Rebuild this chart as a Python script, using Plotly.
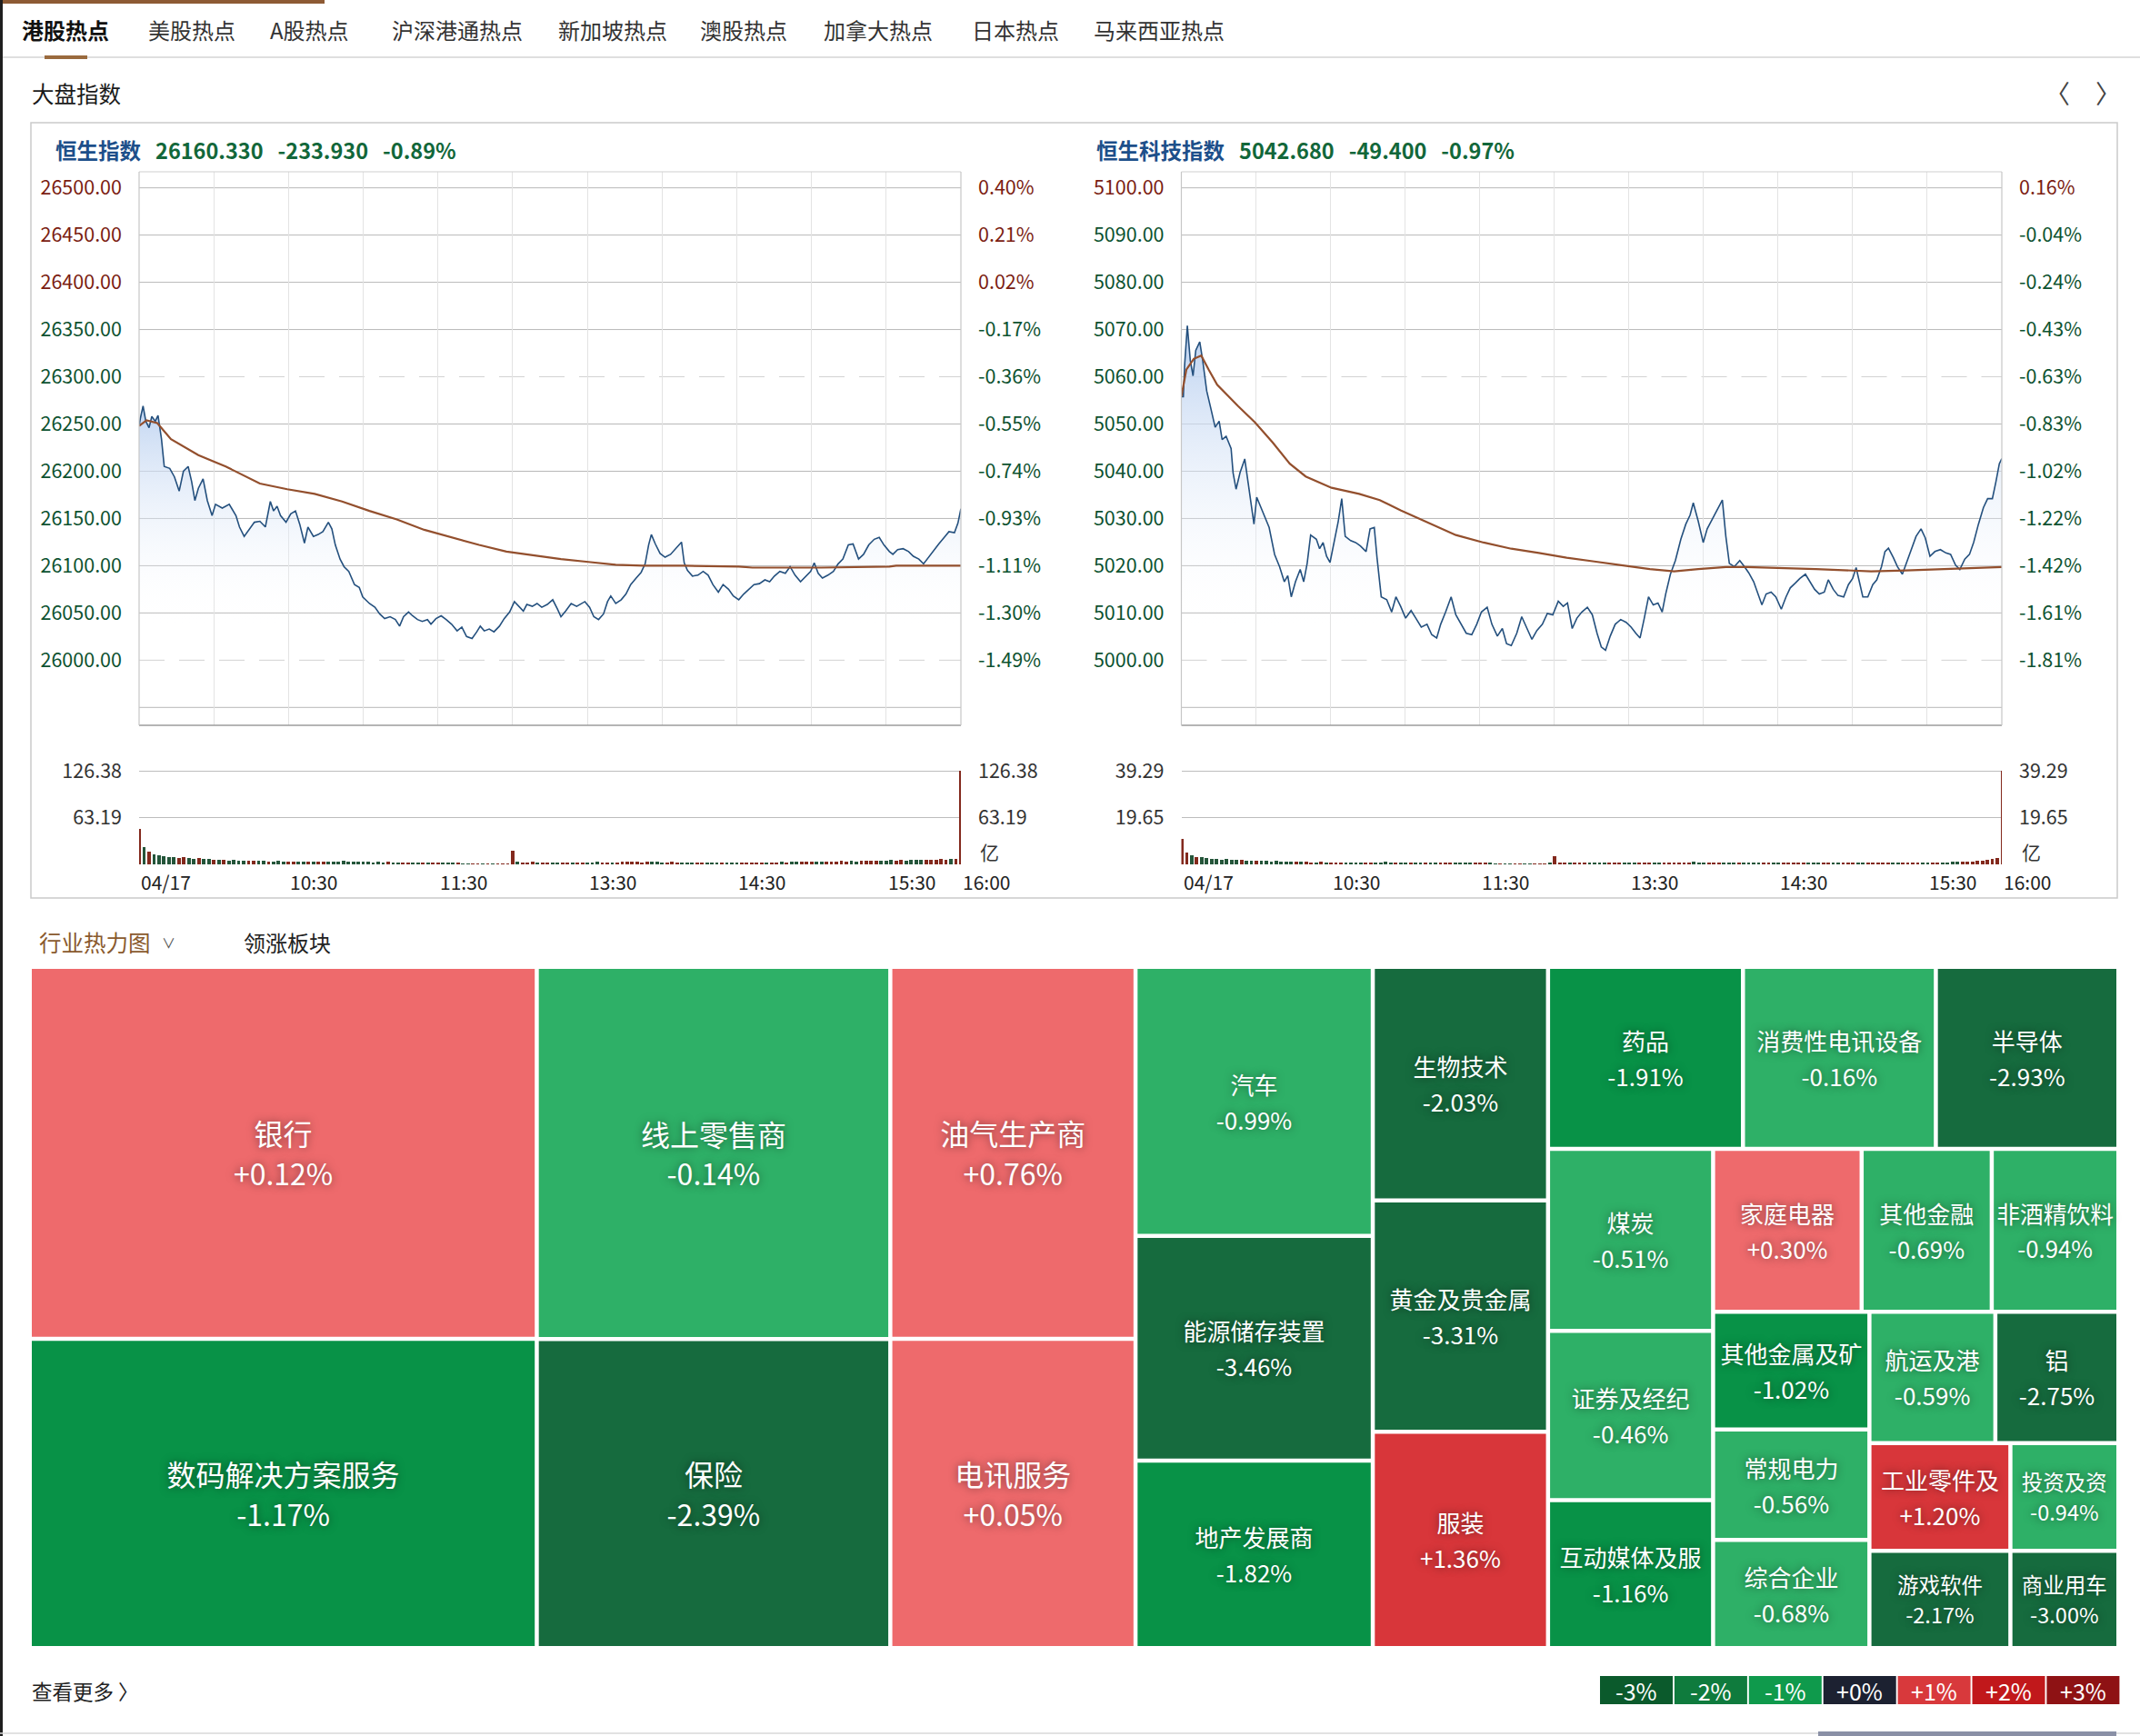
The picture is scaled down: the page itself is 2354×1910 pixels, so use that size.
import numpy as np
import plotly.graph_objects as go

W, H = 2354, 1910
FONT = "Noto Sans CJK SC, Noto Sans, sans-serif"


def X(px):
    return px / W


def Y(py):
    return 1 - py / H


# ------------------------------------------------------------------ data
tabs = ["港股热点", "美股热点", "A股热点", "沪深港通热点", "新加坡热点",
        "澳股热点", "加拿大热点", "日本热点", "马来西亚热点"]

hsi_quote = ("恒生指数", 26160.330, -233.930, -0.89)
tech_quote = ("恒生科技指数", 5042.680, -49.400, -0.97)

time_labels = ["04/17", "10:30", "11:30", "13:30", "14:30", "15:30", "16:00"]
time_label_min = [0, 60, 120, 180, 240, 300, 330]   # minutes after 09:30 (lunch removed)

hsi_levels = [26500, 26450, 26400, 26350, 26300, 26250, 26200, 26150,
              26100, 26050, 26000, 25950]
tech_levels = [5100, 5090, 5080, 5070, 5060, 5050, 5040, 5030,
               5020, 5010, 5000, 4990]

# (minute, price)
hsi_price = [
    (0, 26248), (0.5, 26256), (1.6, 26269), (2.7, 26253), (4.0, 26246), (5.1, 26258),
    (6.5, 26253), (7.6, 26259), (9.0, 26234), (10.1, 26205), (12.3, 26203), (14.2, 26194),
    (16.1, 26179), (17.8, 26200), (19.7, 26205), (21.1, 26189), (22.4, 26169), (23.8, 26182),
    (25.7, 26192), (27.4, 26169), (29.3, 26153), (30.7, 26165), (33.4, 26161), (36.2, 26165),
    (38.9, 26153), (40.3, 26141), (42.2, 26131), (44.4, 26139), (46.3, 26146), (48.5, 26147),
    (50.7, 26141), (52.7, 26168), (54.0, 26158), (55.4, 26163), (56.8, 26153), (59.0, 26146),
    (60.9, 26155), (62.8, 26158), (64.5, 26144), (66.4, 26124), (67.8, 26141), (70.0, 26131),
    (71.9, 26133), (73.8, 26136), (76.0, 26146), (77.4, 26139), (78.8, 26122), (80.7, 26107),
    (82.3, 26099), (84.2, 26094), (86.5, 26080), (88.4, 26077), (89.8, 26067), (92.5, 26060),
    (94.7, 26056), (96.6, 26049), (98.6, 26044), (100.8, 26046), (102.9, 26043), (104.6, 26036),
    (106.2, 26046), (108.2, 26051), (109.8, 26047), (111.8, 26043), (113.7, 26041), (115.8, 26043),
    (117.2, 26038), (119.2, 26044), (121.3, 26047), (123.3, 26043), (125.5, 26038), (127.7, 26031),
    (129.6, 26035), (131.5, 26025), (133.7, 26023), (135.6, 26030), (137.0, 26036), (138.6, 26031),
    (140.6, 26033), (142.5, 26030), (144.7, 26036), (146.6, 26044), (148.8, 26051), (150.7, 26062),
    (152.4, 26057), (154.3, 26052), (155.7, 26059), (157.9, 26057), (159.8, 26060), (161.7, 26056),
    (163.9, 26059), (166.1, 26064), (168.0, 26054), (169.4, 26046), (171.3, 26052), (173.5, 26060),
    (175.7, 26057), (177.7, 26060), (179.0, 26062), (180.9, 26056), (182.6, 26046), (184.5, 26043),
    (186.5, 26049), (188.1, 26062), (189.4, 26068), (191.4, 26060), (193.6, 26064), (195.5, 26070),
    (197.4, 26080), (199.6, 26087), (201.6, 26093), (203.2, 26102), (204.6, 26122), (205.7, 26133),
    (207.3, 26123), (209.2, 26113), (211.2, 26109), (213.4, 26112), (215.6, 26118), (217.8, 26125),
    (218.9, 26103), (220.2, 26095), (222.2, 26089), (224.4, 26090), (226.5, 26094), (228.5, 26090),
    (230.4, 26080), (232.6, 26072), (234.5, 26080), (236.7, 26075), (238.6, 26068), (240.8, 26064),
    (242.8, 26070), (245.0, 26075), (246.9, 26080), (249.1, 26081), (251.3, 26085), (253.2, 26083),
    (255.1, 26089), (257.3, 26094), (259.5, 26092), (261.4, 26099), (263.4, 26090), (265.6, 26083),
    (267.8, 26089), (269.7, 26094), (271.1, 26103), (272.7, 26092), (274.4, 26087), (276.6, 26090),
    (278.8, 26094), (280.7, 26102), (282.6, 26107), (284.8, 26122), (286.7, 26123), (288.9, 26107),
    (290.9, 26112), (293.0, 26122), (295.2, 26128), (297.2, 26130), (299.1, 26122), (301.3, 26115),
    (302.7, 26112), (304.6, 26117), (306.8, 26118), (309.0, 26115), (310.9, 26110), (313.1, 26107),
    (315.0, 26102), (317.0, 26109), (319.2, 26117), (321.1, 26123), (323.3, 26130), (325.2, 26136),
    (327.4, 26135), (328.8, 26145), (330.0, 26160.33),
]
hsi_avg = [
    (0, 26248), (3, 26254), (7.3, 26251), (12.8, 26234), (23.8, 26217), (34.8, 26205),
    (48.5, 26187), (59.5, 26181), (70.5, 26176), (81.5, 26168), (92.5, 26158), (103.5, 26149),
    (114.5, 26138), (125.5, 26130), (136.5, 26122), (147.5, 26115), (158.4, 26111), (169.4, 26107),
    (180.4, 26104), (191.4, 26101), (202.4, 26100), (218.9, 26100), (240.8, 26099), (246.3, 26098),
    (273.8, 26098), (301.3, 26099), (304.0, 26100), (330, 26100),
]
tech_price = [
    (0, 5055.8), (0.8, 5055.8), (1.3, 5062.4), (2.4, 5070.8), (3.6, 5063.4), (4.7, 5060.2),
    (5.8, 5065.6), (7.4, 5067.4), (8.6, 5063.4), (10.2, 5057.0), (11.9, 5053.2), (13.6, 5049.3),
    (15.2, 5050.6), (16.4, 5046.7), (18.0, 5047.4), (20.0, 5044.8), (20.8, 5039.7), (22.0, 5036.2),
    (23.6, 5039.7), (25.5, 5042.6), (26.9, 5037.4), (29.2, 5028.8), (30.3, 5034.5), (32.5, 5031.7),
    (35.3, 5028.1), (37.5, 5022.4), (39.5, 5019.8), (41.4, 5016.6), (42.8, 5017.9), (44.2, 5013.4),
    (45.9, 5016.6), (47.8, 5019.2), (49.2, 5016.6), (50.6, 5020.5), (52.0, 5026.5), (54.3, 5025.6),
    (55.6, 5023.6), (57.0, 5024.9), (58.4, 5022.0), (59.8, 5020.7), (61.2, 5024.2), (63.1, 5029.4),
    (64.5, 5034.2), (65.9, 5026.2), (68.1, 5025.3), (70.1, 5024.9), (72.0, 5024.2), (74.3, 5023.0),
    (75.9, 5027.8), (77.6, 5028.1), (78.7, 5021.7), (80.4, 5013.4), (82.6, 5012.8), (84.6, 5010.2),
    (86.3, 5013.4), (88.2, 5011.4), (90.2, 5008.9), (92.4, 5010.5), (94.3, 5008.9), (96.5, 5007.0),
    (98.8, 5007.6), (100.7, 5005.4), (102.7, 5004.7), (104.3, 5007.6), (106.3, 5010.2), (108.5, 5013.4),
    (110.4, 5009.6), (112.7, 5007.6), (114.6, 5005.7), (116.8, 5005.4), (118.8, 5007.6), (120.7, 5010.2),
    (123.0, 5011.2), (124.9, 5007.6), (127.1, 5005.1), (129.1, 5006.7), (130.8, 5003.5), (132.7, 5003.1),
    (134.9, 5005.7), (136.9, 5009.2), (138.8, 5007.0), (141.0, 5004.4), (143.0, 5006.3), (145.2, 5007.6),
    (147.2, 5009.9), (149.4, 5009.6), (151.6, 5012.5), (153.6, 5011.4), (155.3, 5012.1), (157.2, 5006.7),
    (159.1, 5008.9), (161.1, 5010.2), (163.3, 5011.2), (165.3, 5009.6), (167.2, 5005.7), (168.9, 5002.8),
    (170.6, 5002.1), (172.5, 5005.1), (174.5, 5007.6), (176.7, 5008.6), (178.9, 5008.0), (180.9, 5007.0),
    (182.8, 5005.7), (184.5, 5004.7), (186.2, 5008.9), (187.9, 5013.4), (189.8, 5011.7), (191.7, 5012.1),
    (193.4, 5010.2), (194.8, 5014.0), (196.7, 5018.2), (198.7, 5021.1), (200.9, 5025.6), (202.9, 5028.8),
    (204.6, 5030.7), (205.9, 5033.3), (207.9, 5029.4), (209.9, 5024.9), (211.5, 5027.8), (213.4, 5029.7),
    (215.7, 5031.7), (217.6, 5033.9), (219.0, 5026.2), (220.4, 5020.5), (222.4, 5019.8), (224.6, 5021.1),
    (226.5, 5019.8), (228.2, 5018.5), (230.2, 5016.6), (232.1, 5014.0), (233.5, 5011.7), (235.2, 5014.0),
    (237.2, 5014.4), (239.1, 5013.4), (241.3, 5010.8), (243.2, 5013.4), (244.9, 5015.3), (246.9, 5016.3),
    (248.8, 5017.3), (251.0, 5018.2), (253.0, 5016.6), (254.7, 5015.0), (256.6, 5014.0), (258.6, 5014.4),
    (260.2, 5017.0), (262.2, 5015.0), (264.1, 5013.7), (266.4, 5013.4), (268.3, 5016.0), (270.0, 5017.3),
    (271.4, 5019.6), (272.8, 5016.6), (274.1, 5013.4), (276.1, 5013.4), (278.1, 5016.0), (279.7, 5017.0),
    (281.6, 5019.8), (283.0, 5023.0), (284.4, 5023.7), (286.4, 5021.7), (288.0, 5019.8), (290.0, 5018.2),
    (291.9, 5021.1), (293.6, 5023.4), (295.5, 5026.2), (297.5, 5027.8), (299.2, 5025.9), (301.1, 5022.0),
    (303.1, 5023.0), (305.3, 5023.4), (307.5, 5022.7), (309.4, 5022.4), (311.4, 5020.1), (313.1, 5019.2),
    (315.1, 5021.4), (317.0, 5022.4), (318.7, 5025.0), (320.6, 5028.8), (322.6, 5032.3), (324.3, 5034.2),
    (326.2, 5034.2), (327.6, 5037.7), (329.0, 5041.6), (330.0, 5042.68),
]
tech_avg = [
    (0, 5055.8), (2, 5061.5), (5, 5063.8), (8, 5064.5), (11, 5061.5), (14.4, 5058.3),
    (22.8, 5053.8), (29.7, 5050.3), (36.7, 5046.1), (43.6, 5041.6), (50, 5038.9), (60.4, 5036.5),
    (71.5, 5035.2), (79.8, 5033.9), (88.2, 5031.7), (99.3, 5029.1), (110.4, 5026.5), (121.6, 5024.9),
    (132.7, 5023.6), (143.8, 5022.7), (155.0, 5021.7), (166.1, 5020.9), (177.2, 5020.1), (188.4, 5019.3),
    (198.2, 5018.8), (207.9, 5019.3), (219.0, 5019.7), (227.4, 5019.7), (255.2, 5019.3), (277.4, 5018.8),
    (291.3, 5019.0), (310.8, 5019.3), (330, 5019.7),
]

# turnover (亿), one bar per 2-minute slot from 09:30, plus the closing auction
vol_minutes = list(range(0, 330, 2))
hsi_vol = [
    47.8, 23.5, 17.4, 13.9, 12.1, 11.0, 10.2, 9.4, 8.8, 9.6, 8.1,
    7.6, 8.3, 7.2, 6.8, 6.1, 6.6, 5.9, 5.5, 5.8, 5.2,
    4.9, 5.3, 4.6, 4.4, 4.8, 4.2, 4.0, 4.5, 3.9, 3.7,
    4.1, 3.6, 3.9, 3.4, 3.8, 3.3, 3.5, 4.2, 3.6, 3.9,
    4.4, 3.8, 4.1, 3.5, 3.2, 3.6, 3.0, 3.3, 2.9, 3.1,
    2.8, 3.0, 2.6, 2.7, 2.4, 2.5, 2.2, 2.0, 2.3, 1.8,
    1.6, 1.5, 1.4, 1.3, 1.2, 1.1, 1.0, 1.0, 0.9, 0.9, 0.8, 0.8, 0.9, 1.2,
    18.2,
    3.4, 2.9, 2.6, 3.1, 2.4, 2.8, 2.2, 2.5, 2.7, 2.3,
    2.6, 2.1, 2.4, 2.9, 2.2, 2.5, 3.2, 2.8, 2.4, 2.6,
    2.9, 3.4, 3.1, 3.6, 3.3, 2.8, 3.5, 3.9, 3.2, 2.7,
    2.9, 3.1, 2.6, 2.4, 2.8, 2.5, 2.3, 2.6, 2.2, 2.7,
    2.4, 2.1, 2.6, 2.3, 2.8, 2.5, 2.2, 2.4, 2.6, 2.9,
    2.7, 3.0, 2.8, 3.2, 2.9, 3.4, 3.1, 3.6, 3.3, 3.8,
    3.5, 4.0, 3.7, 4.2, 3.9, 4.4, 4.1, 4.6, 4.3, 4.8,
    4.5, 5.0, 4.7, 5.3, 4.9, 5.6, 5.2, 5.8, 5.4, 6.1,
    5.7, 6.3, 5.9, 6.6, 6.2, 6.9, 6.5, 7.2, 7.6,
]
hsi_auction = 126.38
tech_vol = [
    10.6, 4.8, 3.9, 3.2, 2.9, 2.6, 2.4, 2.2, 2.0, 2.3, 1.9,
    1.8, 2.0, 1.7, 1.6, 1.5, 1.7, 1.4, 1.3, 1.5, 1.2,
    1.1, 1.3, 1.0, 1.0, 1.2, 0.9, 0.9, 1.0, 0.8, 0.8,
    0.9, 0.8, 0.8, 0.7, 0.8, 0.7, 0.7, 0.9, 0.8, 0.9,
    1.0, 0.9, 0.8, 0.8, 0.7, 0.8, 0.7, 0.7, 0.6, 0.7,
    0.6, 0.6, 0.6, 0.5, 0.5, 0.5, 0.5, 0.4, 0.4, 0.4,
    0.4, 0.4, 0.3, 0.3, 0.3, 0.3, 0.3, 0.3, 0.3, 0.3, 0.3, 0.3, 0.3, 0.4,
    3.5,
    0.8, 0.7, 0.6, 0.7, 0.6, 0.6, 0.5, 0.6, 0.7, 0.6,
    0.6, 0.5, 0.6, 0.7, 0.5, 0.6, 0.8, 0.7, 0.6, 0.6,
    0.7, 0.8, 0.9, 0.8, 0.7, 0.8, 0.9, 1.0, 0.8, 0.7,
    0.7, 0.8, 0.6, 0.6, 0.7, 0.6, 0.6, 0.6, 0.5, 0.6,
    0.6, 0.5, 0.6, 0.5, 0.6, 0.5, 0.5, 0.5, 0.5, 0.6,
    0.5, 0.5, 0.5, 0.6, 0.5, 0.5, 0.5, 0.6, 0.5, 0.6,
    0.5, 0.6, 0.5, 0.6, 0.5, 0.6, 0.5, 0.6, 0.6, 0.6,
    0.6, 0.7, 0.6, 0.7, 0.7, 0.8, 0.7, 0.8, 0.9, 1.0,
    1.0, 1.1, 1.2, 1.3, 1.4, 1.6, 1.8, 2.1, 2.6,
]
tech_auction = 39.29

# industry heat map: name, weight, change %
sectors = ["银行", "数码解决方案服务", "线上零售商", "保险", "油气生产商", "电讯服务",
           "汽车", "能源储存装置", "地产发展商", "生物技术", "黄金及贵金属", "服装",
           "药品", "消费性电讯设备", "半导体", "煤炭", "证券及经纪", "互动媒体及服",
           "家庭电器", "其他金融", "非酒精饮料", "其他金属及矿", "常规电力", "综合企业",
           "航运及港", "铝", "工业零件及", "游戏软件", "投资及资", "商业用车"]
sector_weight = [1005, 835, 701, 582, 486, 404, 340, 284, 237, 218, 216, 202,
                 189, 187, 177, 160, 149, 130, 129, 113, 110, 98, 92, 90,
                 88, 86, 81, 73, 62, 56]
sector_change = [0.12, -1.17, -0.14, -2.39, 0.76, 0.05, -0.99, -3.46, -1.82, -2.03, -3.31, 1.36,
                 -1.91, -0.16, -2.93, -0.51, -0.46, -1.16, 0.30, -0.69, -0.94, -1.02, -0.56, -0.68,
                 -0.59, -2.75, 1.20, -2.17, -0.94, -3.00]

legend_labels = ["-3%", "-2%", "-1%", "+0%", "+1%", "+2%", "+3%"]
legend_colors = ["#0b5a2c", "#0f7b3d", "#0f9a4c", "#1c2131", "#d8393c", "#c1181b", "#8e1214"]

# ------------------------------------------------------------------ styles
RED_TXT = "#7b1d12"
GRN_TXT = "#0d5230"
UP_BAR = "#83291d"
DN_BAR = "#24553a"
TICK_SIZE = 21.5
STANDOFF = 18

fig = go.Figure()
layout = {}
shapes = []
annotations = []


def ann(text, x, y, size=22, color="#222", xanchor="left", xref="paper", yref="paper", **kw):
    annotations.append(dict(text=text, x=x, y=y, xref=xref, yref=yref, showarrow=False,
                            xanchor=xanchor, yanchor="middle",
                            font=dict(size=size, color=color, family=FONT), **kw))


def akey(a):
    return ("xaxis" if a[0] == "x" else "yaxis") + a[1:]


def add_chart(ids, x0, x1, yrange, levels, quote, price, avg, vol, auction,
              grad, dashed, title_x, right_lbl_x):
    px_, py_, vx_, vy_, pct_, vr_ = ids
    name, last, chg, pct = quote
    prev = last - chg
    t = np.array([a for a, _ in price])
    p = np.array([b for _, b in price])

    def colored(v, txt):
        c = RED_TXT if v > prev else GRN_TXT
        return f'<span style="color:{c}">{txt}</span>'

    lvl_txt = [colored(v, f"{v:.2f}") if i < len(levels) - 1 else "" for i, v in enumerate(levels)]
    pct_txt = [colored(v, f"{(v / prev - 1) * 100:.2f}%") if i < len(levels) - 1 else ""
               for i, v in enumerate(levels)]

    tickfont = dict(size=TICK_SIZE, family=FONT)
    layout[akey(px_)] = dict(domain=[X(x0), X(x1)], range=[0, 330], anchor=py_,
                             showgrid=True, gridcolor="#e3e3e3", gridwidth=1, tick0=0, dtick=30,
                             showticklabels=False, ticks="", zeroline=False, showline=False,
                             fixedrange=True)
    layout[akey(py_)] = dict(domain=[Y(798), Y(189)], range=yrange, anchor=px_,
                             tickvals=levels, ticktext=lvl_txt, showgrid=False, zeroline=False,
                             ticks="", ticklabelstandoff=STANDOFF, tickfont=tickfont, fixedrange=True)
    layout[akey(pct_)] = dict(overlaying=py_, side="right", anchor=px_, range=yrange,
                              tickvals=levels, ticktext=pct_txt, showgrid=False, zeroline=False,
                              ticks="", ticklabelstandoff=STANDOFF, tickfont=tickfont,
                              fixedrange=True)
    vtop = auction * 153 / 103
    half = f"{auction / 2 + 1e-9:.2f}"
    layout[akey(vx_)] = dict(domain=[X(x0), X(x1)], range=[0, 330], anchor=vy_, showgrid=False,
                             showticklabels=False, ticks="", zeroline=False, showline=False,
                             fixedrange=True)
    vt = dict(range=[0, vtop], tickvals=[auction / 2, auction], ticktext=[half, f"{auction:.2f}"],
              zeroline=False, ticks="", ticklabelstandoff=STANDOFF,
              tickfont=dict(size=TICK_SIZE, family=FONT, color="#333"), fixedrange=True)
    layout[akey(vy_)] = dict(domain=[Y(951), Y(798)], anchor=vx_, showgrid=True,
                             gridcolor="#bdbdbd", gridwidth=1, **vt)
    layout[akey(vr_)] = dict(overlaying=vy_, side="right", anchor=vx_, showgrid=False, **vt)

    # horizontal grid lines at every price level
    for v in levels:
        dash = v in dashed
        shapes.append(dict(type="line", xref=f"{px_} domain", x0=0, x1=1, yref=py_, y0=v, y1=v,
                           line=dict(color="#d2d2d2" if dash else "#b8b8b8", width=1,
                                     dash="28px,16px" if dash else "solid"), layer="below"))
    # panel border
    shapes.append(dict(type="line", xref=f"{px_} domain", x0=0, x1=1, yref=f"{py_} domain",
                       y0=1, y1=1, line=dict(color="#cfcfcf", width=1.2)))
    shapes.append(dict(type="line", xref=f"{px_} domain", x0=0, x1=1, yref=f"{py_} domain",
                       y0=0, y1=0, line=dict(color="#9d9d9d", width=1.5)))
    for xe in (0, 1):
        shapes.append(dict(type="line", xref=f"{px_} domain", x0=xe, x1=xe, yref=f"{py_} domain",
                           y0=0, y1=1, line=dict(color="#c6c6c6", width=1.2)))

    # price line with gradient fill, average line
    fig.add_trace(go.Scatter(x=t, y=p, xaxis=px_, yaxis=py_, mode="lines",
                             line=dict(color="#24507e", width=1.6), fill="tozeroy",
                             fillgradient=dict(type="vertical", start=grad[0], stop=grad[1],
                                               colorscale=[[0, "rgba(255,255,255,0)"],
                                                           [1, "rgba(190,211,241,0.9)"]]),
                             hoverinfo="skip"))
    fig.add_trace(go.Scatter(x=[a for a, _ in avg], y=[b for _, b in avg], xaxis=px_, yaxis=py_,
                             mode="lines", line=dict(color="#934f2d", width=2.2), hoverinfo="skip"))
    # invisible anchors so the right-hand (percent / turnover) axes are drawn
    fig.add_trace(go.Scatter(x=[0], y=[levels[0]], xaxis=px_, yaxis=pct_, mode="markers",
                             marker=dict(opacity=0), hoverinfo="skip"))
    fig.add_trace(go.Scatter(x=[0], y=[0], xaxis=vx_, yaxis=vr_, mode="markers",
                             marker=dict(opacity=0), hoverinfo="skip"))

    # turnover bars, coloured by price direction over the slot
    bx = vol_minutes + [330]
    by = vol + [auction]
    cols = []
    for m in bx:
        now = np.interp(min(m + 1, 330), t, p)
        before = np.interp(max(m - 1, 0), t, p)
        cols.append(UP_BAR if now > before else DN_BAR)
    fig.add_trace(go.Bar(x=bx, y=by, xaxis=vx_, yaxis=vy_, marker=dict(color=cols, line=dict(width=0)),
                         width=1.4, hoverinfo="skip"))

    # title
    title = (f'<b><span style="color:#1d4f8a">{name}</span>&nbsp;&nbsp;&nbsp;'
             f'<span style="color:#12673a">{last:.3f}&nbsp;&nbsp;&nbsp;{chg:.3f}&nbsp;&nbsp;&nbsp;'
             f'{pct:.2f}%</span></b>')
    ann(title, X(title_x), Y(165), size=23.5)
    # time axis labels (left aligned on their grid line)
    for lbl, m in zip(time_labels, time_label_min):
        ann(lbl, m, Y(970), size=21, color="#222", xref=px_)
    ann("亿", X(right_lbl_x), Y(937), size=21, color="#333")


add_chart(("x", "y", "x2", "y2", "y3", "y4"), 153, 1057, [25931.06, 26517.0], hsi_levels,
          hsi_quote, hsi_price, hsi_avg, hsi_vol, hsi_auction, (26035, 26265),
          [26300, 26000], 59, 1076)
add_chart(("x3", "y5", "x4", "y6", "y7", "y8"), 1299.5, 2202, [4986.21, 5103.4], tech_levels,
          tech_quote, tech_price, tech_avg, tech_vol, tech_auction, (5006, 5066),
          [5060, 5000], 1204, 2222)


# ------------------------------------------------------------------ treemap
def cell_color(v):
    if v >= 1:
        return "#d8363a"
    if v >= 0:
        return "#ee6a6c"
    if v > -1:
        return "#2eb067"
    if v > -2:
        return "#089247"
    return "#166b3e"


def cell_font(w):
    # (glyph size, line gap between name and change)
    if w >= 400:
        return 32, 44.0
    if w >= 80:
        return 26, 39.0
    return 23.5, 33.0


cell_text = []
cell_base = []
for name, chg, w in zip(sectors, sector_change, sector_weight):
    fs, gap = cell_font(w)
    cell_text.append(f'<span style="font-size:{fs}px">{name}</span><br> <br>'
                     f'<span style="font-size:{fs}px">{chg:+.2f}%</span>')
    cell_base.append(gap / 2.6)

fig.add_trace(go.Treemap(
    labels=sectors, parents=[""] * len(sectors), values=sector_weight,
    text=cell_text, texttemplate="%{text}", textposition="middle center",
    marker=dict(colors=[cell_color(v) for v in sector_change], line=dict(width=0),
                pad=dict(t=0, l=0, r=0, b=0)),
    textfont=dict(color="white", family=FONT, size=cell_base,
                  shadow="0px 0px 10px rgba(0,0,0,0.5)"),
    tiling=dict(packing="squarify", squarifyratio=1, pad=4.5),
    pathbar=dict(visible=False), sort=True, hoverinfo="skip",
    domain=dict(x=[X(35), X(2328)], y=[Y(1811), Y(1066)]),
))

# ------------------------------------------------------------------ page chrome
tab_x = [22, 161, 295, 429, 612, 768, 904, 1067, 1201]
for i, (tab, tx) in enumerate(zip(tabs, tab_x)):
    ann(f"<b>{tab}</b>" if i == 0 else tab, X(tx), Y(33), size=24,
        color="#111" if i == 0 else "#333")
ann("大盘指数", X(33), Y(102), size=24.5, color="#1a1a1a")
ann("〈", X(2263), Y(102), size=28, color="#444", xanchor="center")
ann("〉", X(2319), Y(102), size=28, color="#444", xanchor="center")
ann("行业热力图", X(41), Y(1036), size=24.5, color="#8a5a2e")
ann("∨", X(186), Y(1036), size=15, color="#555", xanchor="center")
ann("领涨板块", X(266), Y(1036), size=24, color="#222")
ann("查看更多 〉", X(33), Y(1860), size=22.5, color="#222")

shapes += [
    dict(type="rect", xref="paper", yref="paper", x0=X(0), x1=X(357), y0=Y(4), y1=Y(0),
         fillcolor="#8d5a34", line=dict(width=0)),
    dict(type="line", xref="paper", yref="paper", x0=X(0), x1=X(W), y0=Y(63), y1=Y(63),
         line=dict(color="#d4d4d4", width=1.5)),
    dict(type="rect", xref="paper", yref="paper", x0=X(49), x1=X(96), y0=Y(65), y1=Y(61),
         fillcolor="#9a6a3e", line=dict(width=0)),
    dict(type="rect", xref="paper", yref="paper", x0=X(34), x1=X(2329), y0=Y(988), y1=Y(135),
         line=dict(color="#cacaca", width=1.5), layer="below"),
    dict(type="rect", xref="paper", yref="paper", x0=X(0), x1=X(3), y0=Y(H), y1=Y(0),
         fillcolor="#1e1e1e", line=dict(width=0)),
    dict(type="line", xref="paper", yref="paper", x0=X(0), x1=X(W), y0=Y(1907), y1=Y(1907),
         line=dict(color="#d8d8d8", width=1.5)),
    dict(type="rect", xref="paper", yref="paper", x0=X(2000), x1=X(2328), y0=Y(1910), y1=Y(1905),
         fillcolor="#8a90a6", line=dict(width=0)),
]

# colour legend
for i, (lbl, col) in enumerate(zip(legend_labels, legend_colors)):
    lx0 = 1760 + i * 81.9
    shapes.append(dict(type="rect", xref="paper", yref="paper", x0=X(lx0), x1=X(lx0 + 80),
                       y0=Y(1875), y1=Y(1844), fillcolor=col, line=dict(width=0)))
    ann(lbl, X(lx0 + 40), Y(1860), size=25, color="white", xanchor="center")

layout.update(dict(width=W, height=H, margin=dict(l=0, r=0, t=0, b=0),
                   paper_bgcolor="white", plot_bgcolor="rgba(0,0,0,0)", showlegend=False,
                   font=dict(family=FONT, size=20, color="#222"), bargap=0,
                   shapes=shapes, annotations=annotations))
fig.update_layout(**layout)
fig.write_html("out.html")
